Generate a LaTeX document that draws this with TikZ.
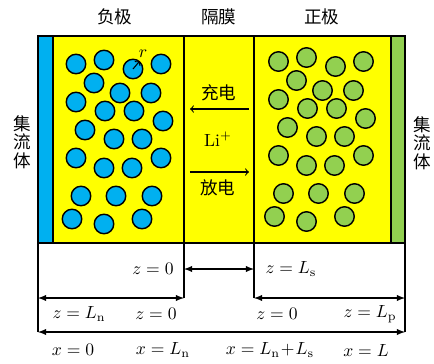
\documentclass[tikz,border=0pt]{standalone}
\usepackage{amsmath}
\usepackage{fontspec}
\newfontfamily\cjk{Noto Sans CJK SC}
\definecolor{collblue}{HTML}{00B0F0}
\definecolor{collgreen}{HTML}{92D050}
\definecolor{electyel}{HTML}{FFFF00}
\tikzset{
    particle/.style={circle, draw, thick, minimum size=0.39cm, inner sep=0pt},
    negp/.style={particle, fill=collblue},
    posp/.style={particle, fill=collgreen},
    dimline/.style={semithick, <->, >=latex},
    zh/.style={font=\cjk}
}
\begin{document}
\begin{tikzpicture}[x=0.02cm, y=-0.02cm]
    \useasboundingbox (0,0) rectangle (434,363);

    % Cell layers
    \fill[electyel] (53,36) rectangle (391,243);
    \draw[semithick, fill=collblue] (38,36) rectangle (53,243);
    \draw[semithick, fill=collgreen] (391,36) rectangle (405,243);
    \draw[semithick] (53,36) rectangle (391,243);
    \draw[semithick] (184,36) -- (184,243);
    \draw[semithick] (254,36) -- (254,243);

    % Particles
    \foreach \px/\py [count=\i] in {76/64, 104/60, 133/69, 161/64, 94/83, 120/93,
        151/93, 76/102, 105/111, 134/111, 163/121, 85/130, 114/139, 142/139,
        76/158, 104/168, 132/168, 161/158, 81/196, 116/196, 152/196, 72/219,
        104/224, 142/219}
    {
        \node[negp] (n\i) at (\px,\py) {};
        \node[posp] (p\i) at (\px+202.5,\py-2.5) {};
    }
    \draw[->, semithick] (n3.center) -- (n3.50);
    \node (rad) at (143,54) {$r$};

    % Labels
    \node[zh] (neg) at (115,17) {负极};
    \node[zh] (sep) at (219,17) {隔膜};
    \node[zh] (pos) at (322,17) {正极};
    \node[zh, align=center, font=\cjk\fontsize{10}{10.5}\selectfont] (ccl) at (22,142) {集\\流\\体};
    \node[zh, align=center, font=\cjk\fontsize{10}{10.5}\selectfont] (ccr) at (422,143) {集\\流\\体};

    % Separator: Li ions
    \node[zh] (chg) at (219,93) {充电};
    \node (li) at (218,139) {Li$^+$};
    \node[zh] (dis) at (218,188) {放电};
    \coordinate (chgA) at (249,109);
    \coordinate (chgB) at (190,109);
    \coordinate (disA) at (190,172);
    \coordinate (disB) at (249,172);
    \draw[->, semithick] (chgA) -- (chgB);
    \draw[->, semithick] (disA) -- (disB);

    % Dimensions
    \coordinate (xa) at (38,243);
    \coordinate (xb) at (184,243);
    \coordinate (xc) at (254,243);
    \coordinate (xd) at (405,243);
    \coordinate (xa1) at (38,298);
    \coordinate (xb1) at (184,298);
    \coordinate (xc1) at (254,298);
    \coordinate (xd1) at (405,298);
    \coordinate (xb2) at (184,269);
    \coordinate (xc2) at (254,269);
    \coordinate (xa3) at (38,332);
    \coordinate (xd3) at (405,332);
    \draw[semithick] (xa) -- (xa3);
    \draw[semithick] (xb) -- (xb1);
    \draw[semithick] (xc) -- (xc1);
    \draw[semithick] (xd) -- (xd3);
    \draw[dimline] (xb2) -- (xc2);
    \draw[dimline] (xa1) -- (xb1);
    \draw[dimline] (xc1) -- (xd1);
    \draw[dimline] (xa3) -- (xd3);

    \node (zs0) at (153,269) {$z=0$};
    \node (zs1) at (291,269) {$z=L_{\mathrm{s}}$};
    \node (zn1) at (79,314) {$z=L_{\mathrm{n}}$};
    \node (zn0) at (156,314) {$z=0$};
    \node (zp0) at (277,314) {$z=0$};
    \node (zp1) at (370,314) {$z=L_{\mathrm{p}}$};
    \node (x0) at (73,350) {$x=0$};
    \node (x1) at (163,350) {$x=L_{\mathrm{n}}$};
    \node (x2) at (270,350) {$x=L_{\mathrm{n}}\!+\!L_{\mathrm{s}}$};
    \node (x3) at (366,350) {$x=L$};
\end{tikzpicture}
\end{document}
